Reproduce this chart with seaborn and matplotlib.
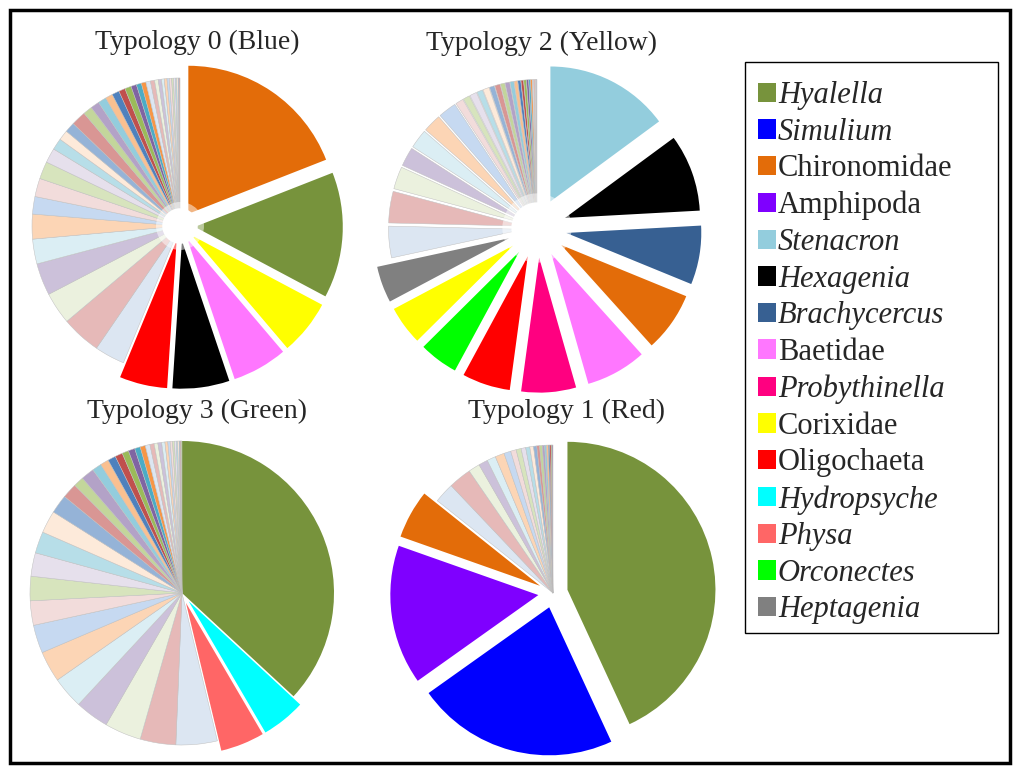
import numpy as np
import matplotlib.pyplot as plt
import seaborn as sns
from matplotlib.patches import Patch, Rectangle, Circle

# Legend taxa and their colours
taxa = ['Hyalella', 'Simulium', 'Chironomidae', 'Amphipoda', 'Stenacron', 'Hexagenia',
        'Brachycercus', 'Baetidae', 'Probythinella', 'Corixidae', 'Oligochaeta',
        'Hydropsyche', 'Physa', 'Orconectes', 'Heptagenia']
taxa_colors = ['#77933C', '#0000FF', '#E36C09', '#7F00FF', '#93CDDD', '#000000',
               '#376092', '#FF77FF', '#FF0080', '#FFFF00', '#FF0000',
               '#00FFFF', '#FF6666', '#00FF00', '#808080']
italic_taxa = ['Hyalella', 'Simulium', 'Stenacron', 'Hexagenia', 'Brachycercus',
               'Probythinella', 'Hydropsyche', 'Physa', 'Orconectes', 'Heptagenia']

# Relative abundance (%) per typology, clockwise from 12 o'clock
t0_taxa = ['Chironomidae', 'Hyalella', 'Corixidae', 'Baetidae', 'Hexagenia', 'Oligochaeta']
t0_values = [19.0, 13.7, 6.0, 6.0, 6.2, 5.2]
t0_other = [3.3, 4.3, 3.5, 3.5, 2.7, 2.7, 1.9, 2.0, 1.9, 1.6, 1.25, 1.1, 1.1, 1.6, 1.0,
            0.95, 0.9, 0.8, 0.8, 0.7, 0.7, 0.6, 0.55, 0.5, 0.5, 0.45, 0.4, 0.35, 0.3,
            0.3, 0.25, 0.25, 0.2, 0.2, 0.15, 0.15, 0.1, 0.1]

t2_taxa = ['Stenacron', 'Hexagenia', 'Brachycercus', 'Chironomidae', 'Baetidae',
           'Probythinella', 'Oligochaeta', 'Orconectes', 'Corixidae', 'Heptagenia']
t2_values = [15.0, 9.3, 7.1, 7.2, 7.3, 6.6, 5.8, 4.7, 4.7, 4.4]
t2_other = [3.8, 3.8, 2.7, 2.3, 2.3, 2.2, 2.2, 0.95, 0.8, 0.85, 0.7, 0.75, 0.6, 0.65,
            0.5, 0.55, 0.45, 0.4, 0.35, 0.3, 0.3, 0.25, 0.2, 0.2, 0.15, 0.15, 0.1, 0.1]

t3_taxa = ['Hyalella', 'Hydropsyche', 'Physa']
t3_values = [37.0, 4.7, 4.7]
t3_other = [4.4, 3.8, 3.9, 3.6, 3.4, 3.3, 3.0, 2.6, 2.6, 2.5, 2.3, 2.4, 2.0, 1.6, 1.1,
            1.4, 1.0, 0.9, 0.85, 0.8, 0.7, 0.7, 0.6, 0.55, 0.5, 0.45, 0.4, 0.4, 0.35,
            0.3, 0.25, 0.25, 0.2, 0.2, 0.15, 0.15, 0.1, 0.1, 0.1]

t1_taxa = ['Hyalella', 'Simulium', 'Amphipoda', 'Chironomidae']
t1_values = [43.0, 22.0, 15.2, 5.3]
t1_other = [2.2, 2.5, 1.25, 1.0, 0.95, 1.0, 0.75, 0.6, 0.55, 0.5, 0.45, 0.4, 0.35,
            0.3, 0.3, 0.25, 0.2, 0.2, 0.15, 0.15, 0.1, 0.1]

# Office-style tints for the unnamed taxa
tints = ['#DCE6F2', '#E6B9B8', '#EBF1DE', '#CCC1DA', '#DBEEF4', '#FCD5B5',
         '#C6D9F1', '#F2DCDB', '#D7E4BD', '#E6E0EC', '#B7DEE8', '#FDEADA',
         '#95B3D7', '#D99694', '#C3D69B', '#B3A2C7', '#93CDDD', '#FAC090',
         '#4F81BD', '#C0504D', '#9BBB59', '#8064A2', '#4BACC6', '#F79646']

sns.set_theme(style='white')
plt.rcParams['font.family'] = ['Liberation Serif', 'DejaVu Serif']

W, H = 1024, 779
fig = plt.figure(figsize=(W / 100, H / 100), dpi=100)
color_of = dict(zip(taxa, taxa_colors))


def draw_pie(names, values, others, cx, cy, r_px, booms, other_boom, glow, title, tx, ty):
    half = 200
    ax = fig.add_axes([(cx - half) / W, 1 - (cy + half) / H, 2 * half / W, 2 * half / H])
    sizes = list(values) + list(others)
    colors = [color_of[n] for n in names] + [tints[i % len(tints)] for i in range(len(others))]
    explode = list(booms) + [other_boom] * len(others)
    wedges, _ = ax.pie(sizes, colors=colors, explode=explode, startangle=90,
                       counterclock=False, radius=1)
    for w in wedges[:len(values)]:
        w.set_linewidth(0)
    for w in wedges[len(values):]:
        w.set_edgecolor('#C0C0C0')
        w.set_linewidth(0.35)
    if glow > 0:
        ax.add_patch(Circle((0, 0), glow * 1.35, color='white', alpha=0.5, lw=0, zorder=5))
        ax.add_patch(Circle((0, 0), glow, color='white', lw=0, zorder=6))
    lim = half / r_px
    ax.set_xlim(-lim, lim)
    ax.set_ylim(-lim, lim)
    ax.set_aspect('equal')
    ax.axis('off')
    fig.text(tx / W, 1 - ty / H, title, ha='center', va='center', fontsize=20)


draw_pie(t0_taxa, t0_values, t0_other, 180, 226, 148, [0.1] * 6, 0.0, 0.12,
         'Typology 0 (Blue)', 197, 42)
draw_pie(t2_taxa, t2_values, t2_other, 537, 228, 135, [0.22] * 10, 0.1, 0.19,
         'Typology 2 (Yellow)', 541, 43)
draw_pie(t3_taxa, t3_values, t3_other, 182, 593, 152, [0.0, 0.07, 0.07], 0.0, 0.0,
         'Typology 3 (Green)', 197, 411)
draw_pie(t1_taxa, t1_values, t1_other, 553, 593, 148, [0.1] * 4, 0.0, 0.0,
         'Typology 1 (Red)', 566, 411)

# Legend box
fig.patches.append(Rectangle((745 / W, 1 - 633 / H), 253 / W, 571 / H, transform=fig.transFigure,
                             fill=False, edgecolor='black', linewidth=1.0))
handles = [Patch(facecolor=c, edgecolor='none') for c in taxa_colors]
leg = fig.legend(handles, taxa, loc='upper left', bbox_to_anchor=(758 / W, 1 - 81 / H),
                 frameon=False, fontsize=22, handlelength=0.6, handleheight=0.6,
                 handletextpad=0.05, labelspacing=0.25, borderpad=0, borderaxespad=0)
for t in leg.get_texts():
    if t.get_text() in italic_taxa:
        t.set_fontstyle('italic')

# Outer frame
fig.patches.append(Rectangle((10 / W, 1 - 763 / H), 1000 / W, 753 / H, transform=fig.transFigure,
                             fill=False, edgecolor='black', linewidth=2.5))

fig.savefig('out.png', dpi=100)
